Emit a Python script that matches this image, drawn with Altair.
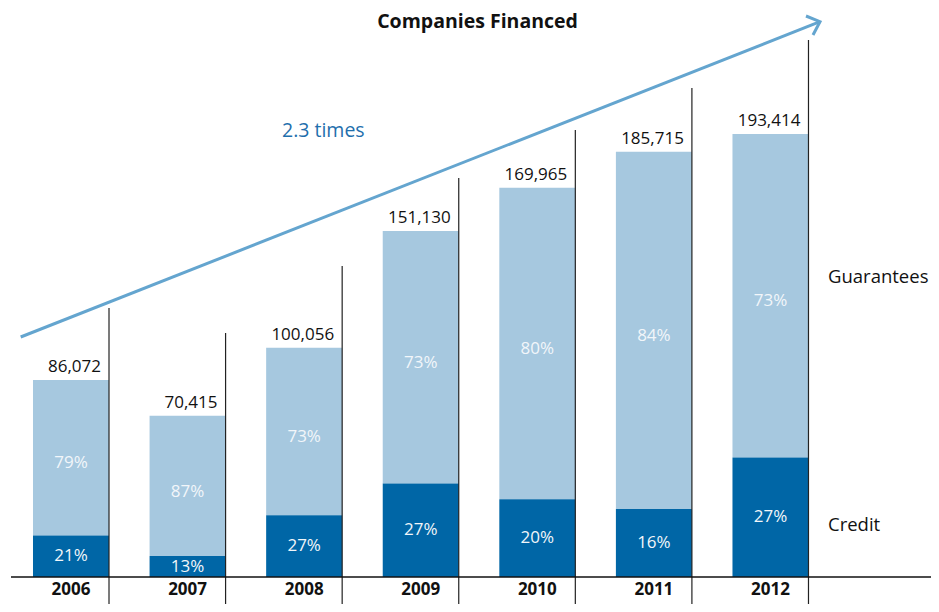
import altair as alt
import pandas as pd

years = ["2006", "2007", "2008", "2009", "2010", "2011", "2012"]
totals = [86072, 70415, 100056, 151130, 169965, 185715, 193414]
credit_pct = [21, 13, 27, 27, 20, 16, 27]
guarantee_pct = [79, 87, 73, 73, 80, 84, 73]

# decorative divider tops (value units) and arrow path (index / value units)
divider_top = [117467, 106550, 135808, 174236, 195197, 213537, 234498]
arrow_x = [-0.4315, 6.4248]
arrow_y = [104803, 242489]
head_x = [6.3047, 6.4248, 6.3647]
head_y = [244978, 242489, 236681]

LIGHT = "#A6C8DF"
DARK = "#0066A6"
ARROW = "#64A5CF"
FONT = "Open Sans"
HALF = 0.326

X_MIN, X_MAX = -0.5404, 7.3769
Y_MIN, Y_MAX = -11790, 248472
XS = alt.Scale(domain=[X_MIN, X_MAX], nice=False, zero=False)
YS = alt.Scale(domain=[Y_MIN, Y_MAX], nice=False, zero=False)

rows = []
for i, (yr, t, c, g) in enumerate(zip(years, totals, credit_pct, guarantee_pct)):
    cv = t * c / 100.0
    rows.append(dict(idx=i, year=yr, total=t, credit=cv, zero=0, top=t,
                     x0=i - HALF, x1=i + HALF, xr=i + HALF,
                     xlab=i + HALF - 0.069,
                     cmid=cv / 2.0, gmid=cv + (t - cv) / 2.0 - 2500,
                     clab=f"{c}%", glab=f"{g}%",
                     tlab=f"{t:,}", dtop=divider_top[i], dbot=Y_MIN,
                     ylab=-5800))
df = pd.DataFrame(rows)


def X(f):
    return alt.X(f, type="quantitative", scale=XS, axis=None)


def Y(f):
    return alt.Y(f, type="quantitative", scale=YS, axis=None)


base = alt.Chart(df)

guar = base.mark_bar(color=LIGHT).encode(x=X("x0"), x2="x1", y=Y("credit"), y2="top")
cred = base.mark_bar(color=DARK).encode(x=X("x0"), x2="x1", y=Y("zero"), y2="credit")

dividers = base.mark_rule(color="#222222", strokeWidth=1.2).encode(x=X("xr"), y=Y("dbot"), y2="dtop")

baseline_df = pd.DataFrame({"x": [-0.5147], "x2": [X_MAX], "y": [0]})
baseline = alt.Chart(baseline_df).mark_rule(color="#111111", strokeWidth=1.6).encode(
    x=X("x"), x2="x2", y=Y("y"))

shaft_df = pd.DataFrame({"x": arrow_x, "y": arrow_y, "o": [0, 1]})
shaft = alt.Chart(shaft_df).mark_line(color=ARROW, strokeWidth=3).encode(
    x=X("x"), y=Y("y"), order="o:Q")
head_df = pd.DataFrame({"x": head_x, "y": head_y, "o": [0, 1, 2]})
head = alt.Chart(head_df).mark_line(color=ARROW, strokeWidth=3, strokeJoin="miter").encode(
    x=X("x"), y=Y("y"), order="o:Q")

tot_text = base.mark_text(font=FONT, fontSize=17, align="right", baseline="alphabetic",
                          dy=-8, color="#111111").encode(x=X("xlab"), y=Y("top"), text="tlab:N")
g_text = base.mark_text(font=FONT, fontSize=17, align="center", baseline="middle",
                        color="#F2F6FA").encode(x=X("idx"), y=Y("gmid"), text="glab:N")
c_text = base.mark_text(font=FONT, fontSize=17, align="center", baseline="middle",
                        color="#F2F6FA").encode(x=X("idx"), y=Y("cmid"), text="clab:N")
yr_text = base.mark_text(font=FONT, fontSize=17, fontWeight="bold", align="center",
                         baseline="middle", color="#111111").encode(x=X("idx"), y=Y("ylab"), text="year:N")

ann_df = pd.DataFrame({
    "label": ["Companies Financed", "2.3 times", "Guarantees", "Credit"],
    "x": [3.487, 1.8099, 6.4935, 6.4935],
    "y": [246300, 192140, 128384, 20087],
})
title = alt.Chart(ann_df.iloc[[0]]).mark_text(font=FONT, fontSize=19.5, fontWeight="bold",
                                              align="center", baseline="top",
                                              color="#111111").encode(x=X("x"), y=Y("y"), text="label:N")
times = alt.Chart(ann_df.iloc[[1]]).mark_text(font=FONT, fontSize=19.5, align="left",
                                              baseline="alphabetic", color="#1F6FAD").encode(
    x=X("x"), y=Y("y"), text="label:N")
side = alt.Chart(ann_df.iloc[[2, 3]]).mark_text(font=FONT, fontSize=18.5, align="left",
                                                baseline="alphabetic", color="#111111").encode(
    x=X("x"), y=Y("y"), text="label:N")

chart = alt.layer(guar, cred, dividers, baseline, shaft, head, tot_text, g_text, c_text,
                  yr_text, title, times, side).properties(
    width=923, height=596, padding=0, autosize=alt.AutoSizeParams(type="none"),
    background="white",
).configure_view(stroke=None)

chart.save("out.html", embed_options={"renderer": "svg", "actions": False})
